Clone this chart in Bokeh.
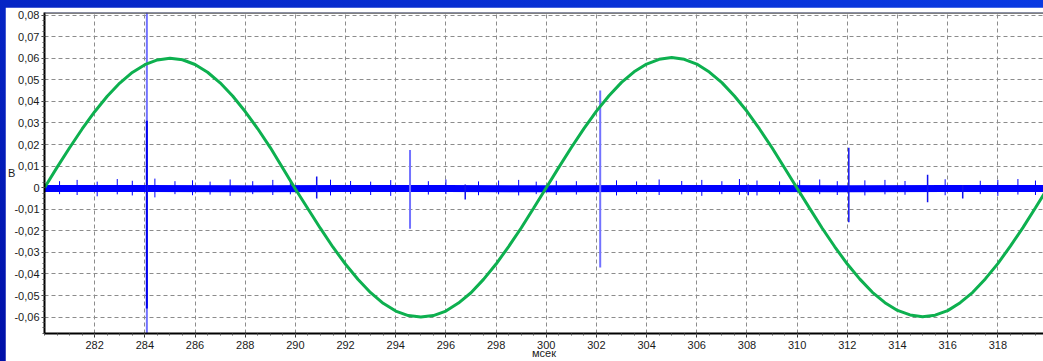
from bokeh.plotting import figure
from bokeh.models import (Range1d, FixedTicker, CustomJSTickFormatter, Label, Span,
                          ColumnDataSource)
from bokeh.embed import file_html
from bokeh.resources import INLINE

# ---------------- data ----------------
green_t = [280 + 0.5 * i for i in range(81)]
green_v = [0.0000, 0.0094, 0.0185, 0.0272, 0.0352, 0.0424, 0.0485, 0.0534, 0.0570, 0.0592,
           0.0600, 0.0593, 0.0571, 0.0535, 0.0486, 0.0425, 0.0353, 0.0273, 0.0186, 0.0090,
           -0.0006, -0.0098, -0.0189, -0.0276, -0.0355, -0.0426, -0.0487, -0.0536, -0.0572, -0.0593,
           -0.0600, -0.0593, -0.0572, -0.0535, -0.0487, -0.0425, -0.0354, -0.0273, -0.0187, -0.0094,
           0.0000, 0.0094, 0.0186, 0.0274, 0.0355, 0.0426, 0.0488, 0.0537, 0.0573, 0.0595,
           0.0603, 0.0595, 0.0573, 0.0536, 0.0487, 0.0425, 0.0354, 0.0272, 0.0185, 0.0091,
           -0.0003, -0.0096, -0.0188, -0.0274, -0.0354, -0.0424, -0.0485, -0.0533, -0.0569, -0.0590,
           -0.0598, -0.0591, -0.0570, -0.0533, -0.0485, -0.0423, -0.0352, -0.0271, -0.0185, -0.0093,
           0.0001]

base_t = [280, 284, 288, 292, 296, 300, 304, 308, 312, 316, 320]
base_v = [-0.0004, -0.0004, -0.0005, -0.0004, -0.0004, -0.0005, -0.0004, -0.0004, -0.0005, -0.0004, -0.0004]

# large spikes (drawn lighter)
big_t = [284.08, 294.57, 302.15]
big_hi = [0.0950, 0.0175, 0.0450]
big_lo = [-0.0800, -0.0190, -0.0370]

# dense core of the largest spike
core_t = [284.08]
core_hi = [0.0310]
core_lo = [-0.0560]

# smaller spikes
small_t = [290.85, 296.77, 308.05, 312.06, 315.20, 316.60]
small_hi = [0.0052, 0.0015, 0.0015, 0.0185, 0.0060, 0.0012]
small_lo = [-0.0050, -0.0055, -0.0035, -0.0160, -0.0068, -0.0050]

# noise ticks on the baseline
noise_t = [280.6, 281.3, 282.1, 282.9, 283.5, 284.4, 285.2, 285.9, 286.6, 287.4, 288.3, 289.1,
           289.8, 291.4, 292.2, 293.0, 293.8, 295.3, 296.0, 297.3, 298.1, 298.9, 299.6, 300.4,
           301.2, 302.8, 303.6, 304.5, 305.4, 306.2, 307.0, 307.7, 308.4, 309.3, 310.1, 310.9,
           311.6, 312.7, 313.5, 314.3, 315.9, 317.3, 318.0, 318.8, 319.5]
noise_hi = [0.0030, 0.0036, 0.0028, 0.0040, 0.0032, 0.0042, 0.0030, 0.0034, 0.0028, 0.0038, 0.0030, 0.0036,
            0.0029, 0.0037, 0.0031, 0.0028, 0.0035, 0.0030, 0.0038, 0.0029, 0.0033, 0.0036, 0.0028, 0.0032,
            0.0030, 0.0034, 0.0029, 0.0038, 0.0031, 0.0036, 0.0030, 0.0040, 0.0033, 0.0029, 0.0035, 0.0038,
            0.0030, 0.0034, 0.0036, 0.0031, 0.0039, 0.0032, 0.0036, 0.0040, 0.0033]
noise_lo = [-0.0030, -0.0034, -0.0040, -0.0031, -0.0036, -0.0045, -0.0030, -0.0035, -0.0032, -0.0038, -0.0030, -0.0034,
            -0.0031, -0.0036, -0.0030, -0.0034, -0.0038, -0.0032, -0.0030, -0.0035, -0.0031, -0.0036, -0.0030, -0.0034,
            -0.0032, -0.0036, -0.0030, -0.0034, -0.0031, -0.0038, -0.0030, -0.0033, -0.0036, -0.0031, -0.0035, -0.0030,
            -0.0034, -0.0036, -0.0031, -0.0033, -0.0035, -0.0030, -0.0038, -0.0032, -0.0034]

x_ticks = [282, 284, 286, 288, 290, 292, 294, 296, 298, 300, 302, 304, 306, 308, 310, 312, 314, 316, 318, 320]
y_ticks = [-0.06, -0.05, -0.04, -0.03, -0.02, -0.01, 0.0, 0.01, 0.02, 0.03, 0.04, 0.05, 0.06, 0.07, 0.08]
x_label = "мсек"
y_label = "B"

# ---------------- figure ----------------
X0, X1 = 280.0, 319.82
Y0, Y1 = -0.0676, 0.0812

p = figure(width=1038, height=354, output_backend="svg", toolbar_location=None,
           x_range=Range1d(X0, X1), y_range=Range1d(Y0, Y1),
           min_border_left=39, min_border_right=0, min_border_top=5, min_border_bottom=28)
p.margin = (7, 0, 0, 5)
p.background_fill_color = "white"
p.border_fill_color = "white"
p.outline_line_color = None

x_minor = [280 + 0.5 * i for i in range(81)]
y_minor = [-0.0675 + 0.0025 * i for i in range(60)]
p.xaxis.ticker = FixedTicker(ticks=x_ticks, minor_ticks=x_minor)
p.yaxis.ticker = FixedTicker(ticks=y_ticks, minor_ticks=y_minor)
p.yaxis.formatter = CustomJSTickFormatter(
    code="if (Math.abs(tick) < 1e-9) { return '0'; } return tick.toFixed(2).replace('.', ',');")

for ax in (p.xaxis[0], p.yaxis[0]):
    ax.axis_line_color = "black"
    ax.axis_line_width = 2
    ax.major_tick_line_color = "#333333"
    ax.minor_tick_line_color = "#555555"
    ax.major_tick_in = 0
    ax.minor_tick_in = 0
    ax.minor_tick_out = 2
    ax.major_label_text_font = "Liberation Sans"
    ax.major_label_text_font_size = "11px"
    ax.major_label_text_color = "#1a1a1a"
    ax.axis_label_text_font = "Liberation Sans"
    ax.axis_label_text_font_size = "11px"
    ax.axis_label_text_font_style = "normal"
    ax.axis_label_text_color = "#1a1a1a"

xax = p.xaxis[0]
xax.major_tick_out = 4
xax.major_label_standoff = 3
xax.axis_label = x_label
xax.axis_label_standoff = -5

yax = p.yaxis[0]
yax.major_tick_out = 3
yax.major_label_standoff = 2
if hasattr(yax, "axis_label_orientation"):
    yax.axis_label = y_label
    yax.axis_label_orientation = "horizontal"
    yax.axis_label_standoff = -4
else:
    p.add_layout(Label(x=-35, y=0.0069, x_units="screen", y_units="data", text=y_label,
                       text_font="Liberation Sans", text_font_size="11px", text_color="#1a1a1a",
                       text_align="center", text_baseline="middle"))

for g in (p.xgrid[0], p.ygrid[0]):
    g.grid_line_color = "#8c8c8c"
    g.grid_line_dash = "4 3"
    g.grid_line_width = 1

# top border line
p.add_layout(Span(location=0.0811, dimension="width", line_color="#555555", line_width=2))

# blue trace
p.line(base_t, base_v, line_color="#0000ff", line_width=7)
noise_src = ColumnDataSource(dict(t=noise_t, hi=noise_hi, lo=noise_lo))
p.segment(x0="t", y0="lo", x1="t", y1="hi", source=noise_src, line_color="#0000ff", line_width=1)
small_src = ColumnDataSource(dict(t=small_t, hi=small_hi, lo=small_lo))
p.segment(x0="t", y0="lo", x1="t", y1="hi", source=small_src, line_color="#1010ee", line_width=1.5)
big_src = ColumnDataSource(dict(t=big_t, hi=big_hi, lo=big_lo))
p.segment(x0="t", y0="lo", x1="t", y1="hi", source=big_src, line_color="#7272ff", line_width=2)
core_src = ColumnDataSource(dict(t=core_t, hi=core_hi, lo=core_lo))
p.segment(x0="t", y0="lo", x1="t", y1="hi", source=core_src, line_color="#0000ee", line_width=2)

# green sine
p.line(green_t, green_v, line_color="#0db04f", line_width=3)

html = file_html(p, INLINE)
style = ("<style>html,body{margin:0;padding:0;overflow:hidden;"
         "background:linear-gradient(to top right,#0010a8,#0a3ae2);}</style>")
html = html.replace("</head>", style + "</head>", 1)
open("out.html", "w").write(html)
